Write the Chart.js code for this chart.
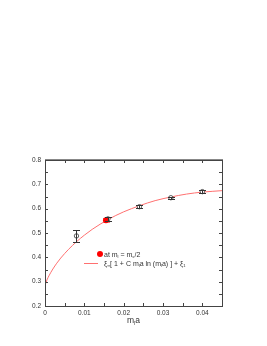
<!DOCTYPE html>
<html>
<head>
<meta charset="utf-8">
<script src="https://cdn.jsdelivr.net/npm/chart.js@4.4.0/dist/chart.umd.min.js"></script>
<style>
  html, body { margin: 0; padding: 0; background: #fff; }
  #wrap { width: 267px; height: 346px; }
</style>
</head>
<body>
<div id="wrap"><canvas id="chart" width="267" height="346"></canvas></div>
<script>
// measured points (open circles) with error bars
const massX = [0.008, 0.016, 0.024, 0.032, 0.040];
const xiVals = [0.488, 0.558, 0.608, 0.645, 0.670];
const xiErr = [0.023, 0.009, 0.006, 0.005, 0.006];

// interpolated point at m_l = m_s/2
const halfX = [0.0155];
const halfY = [0.552];
const halfErr = [0.008];

// fit curve
const fitX = [0, 0.0005, 0.001, 0.002, 0.003, 0.004, 0.006, 0.008, 0.010, 0.012, 0.014, 0.016, 0.018, 0.020, 0.024, 0.028, 0.032, 0.036, 0.040, 0.045];
const fitY = [0.285, 0.307, 0.324, 0.352, 0.376, 0.397, 0.433, 0.464, 0.491, 0.515, 0.536, 0.555, 0.572, 0.587, 0.612, 0.633, 0.648, 0.660, 0.668, 0.674];

// axis ticks
const xTicks = [0, 0.01, 0.02, 0.03, 0.04];
const yTicks = [0.2, 0.3, 0.4, 0.5, 0.6, 0.7, 0.8];
const xMinor = [0.005, 0.015, 0.025, 0.035];
const yMinor = [0.25, 0.35, 0.45, 0.55, 0.65, 0.75];

const FONT = "Liberation Sans, Arial, sans-serif";

// draw text pieces, some as subscripts
function drawRich(ctx, x, y, parts, size, align) {
  let total = 0;
  parts.forEach(p => {
    ctx.font = (p[1] ? size * 0.6 : size) + "px " + FONT;
    total += ctx.measureText(p[0]).width;
  });
  let cx = align === "center" ? x - total / 2 : x;
  ctx.textAlign = "left";
  ctx.textBaseline = "alphabetic";
  parts.forEach(p => {
    ctx.font = (p[1] ? size * 0.6 : size) + "px " + FONT;
    ctx.fillText(p[0], cx, p[1] ? y + size * 0.25 : y);
    cx += ctx.measureText(p[0]).width;
  });
}

function errorBars(ctx, xs, ys, es, xScale, yScale, color) {
  ctx.strokeStyle = color;
  ctx.lineWidth = 1;
  for (let i = 0; i < xs.length; i++) {
    const px = Math.round(xScale.getPixelForValue(xs[i])) + 0.5;
    const top = Math.round(yScale.getPixelForValue(ys[i] + es[i])) + 0.5;
    const bot = Math.round(yScale.getPixelForValue(ys[i] - es[i])) + 0.5;
    ctx.beginPath();
    ctx.moveTo(px, top); ctx.lineTo(px, bot);
    ctx.moveTo(px - 3.5, top); ctx.lineTo(px + 3.5, top);
    ctx.moveTo(px - 3.5, bot); ctx.lineTo(px + 3.5, bot);
    ctx.stroke();
  }
}

const framePlugin = {
  id: "frame",
  beforeDatasetsDraw(chart) {
    const ctx = chart.ctx;
    ctx.save();
    errorBars(ctx, halfX, halfY, halfErr, chart.scales.x, chart.scales.y, "#ff8080");
    ctx.restore();
  },
  afterDatasetsDraw(chart) {
    const ctx = chart.ctx;
    ctx.save();
    errorBars(ctx, massX, xiVals, xiErr, chart.scales.x, chart.scales.y, "#333");
    ctx.restore();
  },
  afterDraw(chart) {
    const ctx = chart.ctx;
    const a = chart.chartArea;
    const xs = chart.scales.x, ys = chart.scales.y;
    ctx.save();
    // box
    ctx.strokeStyle = "#444";
    ctx.lineWidth = 1;
    ctx.strokeRect(Math.round(a.left) + 0.5, Math.round(a.top) + 0.5, Math.round(a.right - a.left), Math.round(a.bottom - a.top));
    ctx.strokeStyle = "#888";
    ctx.beginPath();
    ctx.moveTo(a.left, Math.round(a.top) - 0.5); ctx.lineTo(a.right + 1, Math.round(a.top) - 0.5);
    ctx.stroke();
    // inward ticks
    ctx.strokeStyle = "#444";
    ctx.beginPath();
    xTicks.concat(xMinor).forEach(v => {
      const px = Math.round(xs.getPixelForValue(v)) + 0.5;
      ctx.moveTo(px, a.bottom); ctx.lineTo(px, a.bottom - 3);
      ctx.moveTo(px, a.top); ctx.lineTo(px, a.top + 3);
    });
    yTicks.concat(yMinor).forEach(v => {
      const py = Math.round(ys.getPixelForValue(v)) + 0.5;
      ctx.moveTo(a.left, py); ctx.lineTo(a.left + 3, py);
      ctx.moveTo(a.right, py); ctx.lineTo(a.right - 3, py);
    });
    ctx.stroke();

    // x axis title
    ctx.fillStyle = "#333";
    drawRich(ctx, (a.left + a.right) / 2, a.bottom + 16.5, [["m"], ["l", 1], ["a"]], 8.5, "center");

    // legend
    ctx.fillStyle = "#ff0000";
    ctx.beginPath();
    ctx.arc(100, 254, 3, 0, Math.PI * 2);
    ctx.fill();
    ctx.fillStyle = "#333";
    drawRich(ctx, 104, 256.5, [["at m"], ["l", 1], [" = m"], ["s", 1], ["/2"]], 7, "left");
    ctx.strokeStyle = "#ff7070";
    ctx.beginPath();
    ctx.moveTo(84, 263.5); ctx.lineTo(98, 263.5);
    ctx.stroke();
    ctx.fillStyle = "#333";
    drawRich(ctx, 104, 265.5, [["\u03be"], ["\u221e", 1], ["[ 1 + C m"], ["l", 1], ["a ln (m"], ["l", 1], ["a) ] + \u03be"], ["1", 1]], 7, "left");
    ctx.restore();
  }
};

const ctx = document.getElementById("chart").getContext("2d");
const chart = new Chart(ctx, {
  type: "scatter",
  data: {
    datasets: [
      {
        label: "at ml = ms/2",
        data: halfX.map((x, i) => ({ x: x, y: halfY[i] })),
        pointRadius: 3,
        backgroundColor: "#ff0000",
        borderColor: "#ff0000",
        borderWidth: 0,
        order: 1,
      },
      {
        label: "data",
        data: massX.map((x, i) => ({ x: x, y: xiVals[i] })),
        pointRadius: 2.2,
        backgroundColor: "#fff",
        borderColor: "#333",
        borderWidth: 0.8,
        order: 2,
      },
      {
        label: "fit",
        data: fitX.map((x, i) => ({ x: x, y: fitY[i] })),
        showLine: true,
        pointRadius: 0,
        borderColor: "#ff7070",
        borderWidth: 1,
        cubicInterpolationMode: "monotone",
        order: 3,
      },
    ],
  },
  options: {
    responsive: false,
    animation: false,
    layout: { padding: { top: 160, right: 45, left: 0, bottom: 0 } },
    plugins: {
      legend: { display: false },
      tooltip: { enabled: false },
    },
    scales: {
      x: {
        type: "linear",
        min: 0,
        max: 0.045,
        afterBuildTicks: (s) => { s.ticks = xTicks.map(v => ({ value: v })); },
        afterFit: (s) => { s.height = 40; },
        grid: { display: false, drawTicks: false },
        border: { display: false },
        ticks: {
          padding: 3,
          color: "#333",
          font: { family: FONT, size: 6.5 },
          maxRotation: 0,
          callback: (v) => String(v),
        },
      },
      y: {
        type: "linear",
        min: 0.2,
        max: 0.8,
        afterBuildTicks: (s) => { s.ticks = yTicks.map(v => ({ value: v })); },
        afterFit: (s) => { s.width = 45; },
        grid: { display: false, drawTicks: false },
        border: { display: false },
        ticks: {
          padding: 4,
          color: "#333",
          font: { family: FONT, size: 6.5 },
          callback: (v) => v.toFixed(1),
        },
      },
    },
  },
  plugins: [framePlugin],
});
</script>
</body>
</html>
